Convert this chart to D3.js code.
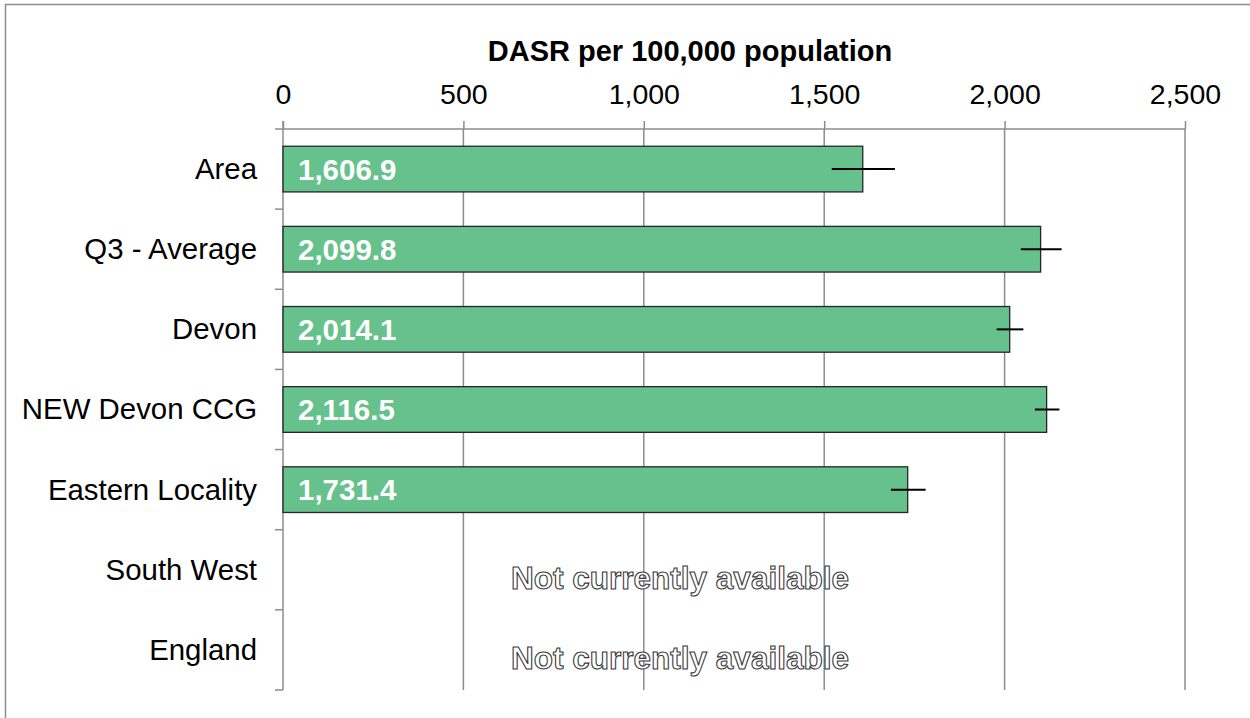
<!DOCTYPE html>
<html>
<head>
<meta charset="utf-8">
<script src="https://cdn.jsdelivr.net/npm/d3@7"></script>
<style>
  body { margin: 0; background: #fff; }
  text { font-family: "Liberation Sans", Arial, sans-serif; }
</style>
</head>
<body>
<svg id="chart" width="1250" height="718"></svg>
<script>
// data
var categories = ["Area", "Q3 - Average", "Devon", "NEW Devon CCG", "Eastern Locality", "South West", "England"];
var values = [1606.9, 2099.8, 2014.1, 2116.5, 1731.4, null, null];
var lowerCI = [1521, 2045, 1978, 2084, 1685, null, null];
var upperCI = [1696, 2158, 2052, 2152, 1781, null, null];
var tickValues = [0, 500, 1000, 1500, 2000, 2500];
var naText = "Not currently available";
var title = "DASR per 100,000 population";

var svg = d3.select("#chart");
var grid = "#8c8c8c";

// outer frame (only left and top edges fall inside the picture)
svg.append("rect")
    .attr("x", 5.5).attr("y", 4.5)
    .attr("width", 1300).attr("height", 800)
    .attr("fill", "none").attr("stroke", grid).attr("stroke-width", 1.5);

var x = d3.scaleLinear().domain([0, 2500]).range([283, 1185]);
var y = d3.scaleBand().domain(categories).range([129, 690])
    .paddingInner(0.43).paddingOuter(0.215);

var data = categories.map(function (c, i) {
    return { cat: c, v: values[i], lo: lowerCI[i], hi: upperCI[i] };
});

// vertical gridlines
svg.append("g").selectAll("line").data(tickValues.slice(1)).enter().append("line")
    .attr("x1", function (d) { return x(d); }).attr("x2", function (d) { return x(d); })
    .attr("y1", 129).attr("y2", 690)
    .attr("stroke", grid).attr("stroke-width", 1.5);

// top value axis
var xAxis = svg.append("g").attr("transform", "translate(0,129)")
    .call(d3.axisTop(x).tickValues(tickValues).tickFormat(d3.format(",")).tickSize(8).tickPadding(17));
xAxis.select(".domain").attr("stroke", grid).attr("stroke-width", 1.5).attr("d", "M283,0H1185");
xAxis.selectAll(".tick line").attr("stroke", grid).attr("stroke-width", 1.5);
xAxis.selectAll(".tick text").attr("fill", "#000").style("font-size", "28.5px");

// category axis: line with ticks at band boundaries
var step = y.step();
var bounds = d3.range(categories.length + 1).map(function (i) { return 129 + i * step; });
svg.append("line").attr("x1", 283).attr("x2", 283).attr("y1", 121).attr("y2", 690)
    .attr("stroke", grid).attr("stroke-width", 1.5);
svg.append("g").selectAll("line").data(bounds).enter().append("line")
    .attr("x1", 275).attr("x2", 283)
    .attr("y1", function (d) { return d; }).attr("y2", function (d) { return d; })
    .attr("stroke", grid).attr("stroke-width", 1.5);

svg.append("g").selectAll("text").data(categories).enter().append("text")
    .attr("x", 257)
    .attr("y", function (d) { return y(d) + y.bandwidth() / 2; })
    .attr("dy", "0.34em")
    .attr("text-anchor", "end")
    .style("font-size", "29.4px")
    .text(function (d) { return d; });

// title
svg.append("text").attr("x", 690).attr("y", 61).attr("text-anchor", "middle")
    .style("font-size", "29px").style("font-weight", "bold").text(title);

var withVal = data.filter(function (d) { return d.v != null; });
var noVal = data.filter(function (d) { return d.v == null; });

// bars
svg.append("g").selectAll("rect").data(withVal).enter().append("rect")
    .attr("x", x(0))
    .attr("y", function (d) { return y(d.cat); })
    .attr("width", function (d) { return x(d.v) - x(0); })
    .attr("height", y.bandwidth())
    .attr("fill", "#66c18c")
    .attr("stroke", "#262626").attr("stroke-width", 1.3);

// error bars
svg.append("g").selectAll("line").data(withVal).enter().append("line")
    .attr("x1", function (d) { return x(d.lo); })
    .attr("x2", function (d) { return x(d.hi); })
    .attr("y1", function (d) { return y(d.cat) + y.bandwidth() / 2; })
    .attr("y2", function (d) { return y(d.cat) + y.bandwidth() / 2; })
    .attr("stroke", "#000").attr("stroke-width", 2);

// value labels
svg.append("g").selectAll("text").data(withVal).enter().append("text")
    .attr("x", 298)
    .attr("y", function (d) { return y(d.cat) + y.bandwidth() / 2; })
    .attr("dy", "0.36em")
    .attr("fill", "#fff")
    .style("font-size", "29.5px").style("font-weight", "bold")
    .text(function (d) { return d3.format(",.1f")(d.v); });

// missing values
svg.append("g").selectAll("text").data(noVal).enter().append("text")
    .attr("x", 680)
    .attr("y", function (d) { return y(d.cat) + y.bandwidth() / 2 + 8; })
    .attr("dy", "0.35em")
    .attr("text-anchor", "middle")
    .attr("fill", "#fff").attr("stroke", "#3a3a3a").attr("stroke-width", 1.1)
    .style("font-size", "31.5px").style("font-weight", "bold")
    .text(naText);
</script>
</body>
</html>
